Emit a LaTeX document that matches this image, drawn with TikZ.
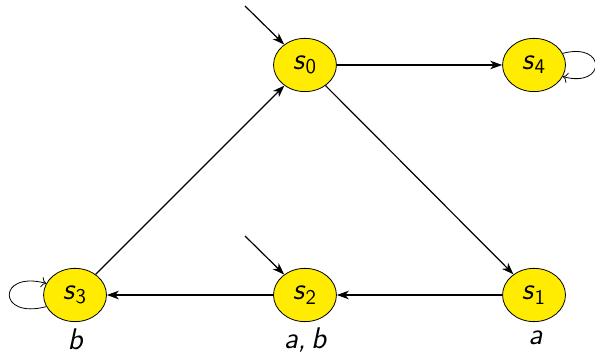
\documentclass[tikz,border=0pt]{standalone}
\usepackage{tikz}
\usetikzlibrary{shapes,arrows.meta}
\definecolor{stateyellow}{RGB}{255,236,0}
\newcommand{\stlabel}[1]{\textit{s}\textsubscript{\textup{#1}}}

\begin{document}
\begin{tikzpicture}[
    state/.style={ellipse, draw, thin, fill=stateyellow, minimum width=1.11cm, minimum height=0.94cm, inner sep=0pt, font=\fontsize{15}{18}\selectfont\sffamily},
    edgeline/.style={semithick, -{Stealth[length=2.1mm, width=1.5mm, inset=0.6mm]}},
    loopline/.style={thin, ->},
    proplabel/.style={anchor=base, font=\fontsize{15}{18}\selectfont\sffamily\itshape}
]
    \useasboundingbox (0,0) rectangle (10.5,6.318);

    % States
    \node[state] (s0) at (5.382,5.171) {\stlabel{0}};
    \node[state] (s4) at (9.424,5.171) {\stlabel{4}};
    \node[state] (s3) at (1.324,1.112) {\stlabel{3}};
    \node[state] (s2) at (5.382,1.112) {\stlabel{2}};
    \node[state] (s1) at (9.424,1.112) {\stlabel{1}};

    % Initial arrows
    \coordinate (i0) at (4.324,6.212);
    \coordinate (i2) at (4.324,2.153);
    \draw[edgeline] (i0) -- (s0);
    \draw[edgeline] (i2) -- (s2);

    % Transitions
    \draw[edgeline] (s0) -- (s4);
    \draw[edgeline] (s0) -- (s1);
    \draw[edgeline] (s1) -- (s2);
    \draw[edgeline] (s2) -- (s3);
    \draw[edgeline] (s3) -- (s0);

    % Self loops
    \draw[loopline] (s4.22) to[out=15, in=-15, distance=8mm] (s4.-22);
    \draw[loopline] (s3.202) to[out=195, in=165, distance=9mm] (s3.158);

    % Labels
    \node[proplabel] (l3) at (1.324,0.15) {b};
    \node[proplabel] (l2) at (5.382,0.17) {a,\,b};
    \node[proplabel] (l1) at (9.45,0.23) {a};
\end{tikzpicture}
\end{document}
